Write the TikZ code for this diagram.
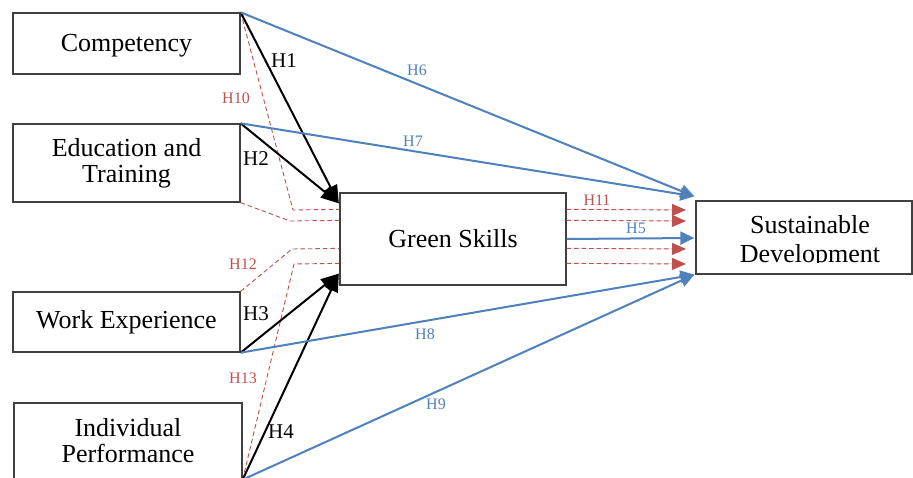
\documentclass[tikz,border=0pt]{standalone}
\usepackage{fontspec}
\setmainfont{Liberation Serif}
\usetikzlibrary{arrows.meta,calc}
\definecolor{boxgray}{HTML}{404040}
\definecolor{hblue}{HTML}{4F81BD}
\definecolor{hred}{HTML}{C0504D}
\begin{document}
\begin{tikzpicture}[x=1pt,y=-1pt,
  box/.style={draw=boxgray, line width=1.3pt, rectangle, inner sep=0pt, align=center,
    font=\fontsize{26}{26}\selectfont},
  blk/.style={draw=black, line width=2pt, -{Triangle[length=18pt,width=14pt]}},
  blu/.style={draw=hblue, line width=2pt, -{Triangle[length=14pt,width=13pt]}},
  reddash/.style={draw=hred, line width=0.9pt, dash pattern=on 4.5pt off 3pt},
  redarr/.style={reddash, -{Triangle[length=14pt,width=12pt]}, fill=hred},
  blab/.style={font=\fontsize{21}{21}\selectfont, inner sep=0pt},
  bluelab/.style={font=\fontsize{16}{16}\selectfont, text=hblue, inner sep=0pt},
  redlab/.style={font=\fontsize{16}{16}\selectfont, text=hred, inner sep=0pt}]
\useasboundingbox (0,0) rectangle (913,478);
\clip (0,0) rectangle (913,478);
\fill[white] (0,0) rectangle (913,478);

% boxes
\node[box, minimum width=227pt, minimum height=61pt, text depth=1pt] (comp) at (126.5,43.5) {Competency};
\node[box, minimum width=227pt, minimum height=78pt] (edu) at (126.5,163) {Education and\\Training};
\node[box, minimum width=227pt, minimum height=60pt] (work) at (126.5,322) {Work Experience};
\node[box, minimum width=228pt, minimum height=76pt] (ind) at (128,441) {Individual\\Performance};
\node[box, minimum width=226pt, minimum height=92pt] (gs) at (453,239) {Green Skills};
\node[box, minimum width=216pt, minimum height=73pt] (sd) at (804,237.5) {};
\begin{scope}
  \clip (696,201) rectangle (912,263);
  \node[inner sep=0pt, align=center, font=\fontsize{26}{29}\selectfont] (sdt) at (810,241.4) {Sustainable\\Development};
\end{scope}

% target points
\coordinate (gsA) at ($(gs.north west)+(-0.5,11)$);
\coordinate (gsB) at ($(gs.south west)+(-0.5,-12)$);
\coordinate (sdA) at ($(sd.north west)+(-1,-4)$);
\coordinate (sdB) at ($(sd.south west)+(-1,0)$);
\coordinate (sdM) at ($(sd.west)+(-1,0.5)$);

% red dashed (left)
\draw[reddash] (comp.north east) -- (293,210) -- ($(gs.north west)+(0,17)$);
\draw[reddash] (edu.south east) -- (290,221) -- ($(gs.north west)+(0,28)$);
\draw[reddash] (work.north east) -- (292,249) -- ($(gs.north west)+(0,56)$);
\draw[reddash] (ind.south east) -- (294,264) -- ($(gs.north west)+(0,71)$);

% red dashed arrows (right)
\draw[redarr] ($(gs.north east)+(0,17)$) -- (686,210);
\draw[redarr] ($(gs.north east)+(0,28)$) -- (686,221);
\draw[redarr] ($(gs.north east)+(0,56)$) -- (686,249);
\draw[redarr] ($(gs.north east)+(0,71)$) -- (686,264);

% black arrows
\draw[blk] (comp.north east) -- (gsA);
\draw[blk] (edu.north east) -- (gsA);
\draw[blk] (work.south east) -- (gsB);
\draw[blk] (ind.south east) -- (gsB);

% blue arrows
\draw[blu] (comp.north east) -- (sdA);
\draw[blu] (edu.north east) -- (sdA);
\draw[blu] (gs.east) -- (sdM);
\draw[blu] (work.south east) -- (sdB);
\draw[blu] (ind.south east) -- (sdB);

% labels
\node[blab] (l1) at (284,61) {H1};
\node[blab] (l2) at (256,159) {H2};
\node[blab] (l3) at (256,314) {H3};
\node[blab] (l4) at (281,432) {H4};
\node[bluelab] (l5) at (636,228) {H5};
\node[bluelab] (l6) at (417,70) {H6};
\node[bluelab] (l7) at (413,141) {H7};
\node[bluelab] (l8) at (425,334) {H8};
\node[bluelab] (l9) at (436,404) {H9};
\node[redlab] (l10) at (236,98) {H10};
\node[redlab] (l11) at (597,200) {H11};
\node[redlab] (l12) at (243,264) {H12};
\node[redlab] (l13) at (243,378) {H13};
\end{tikzpicture}
\end{document}
